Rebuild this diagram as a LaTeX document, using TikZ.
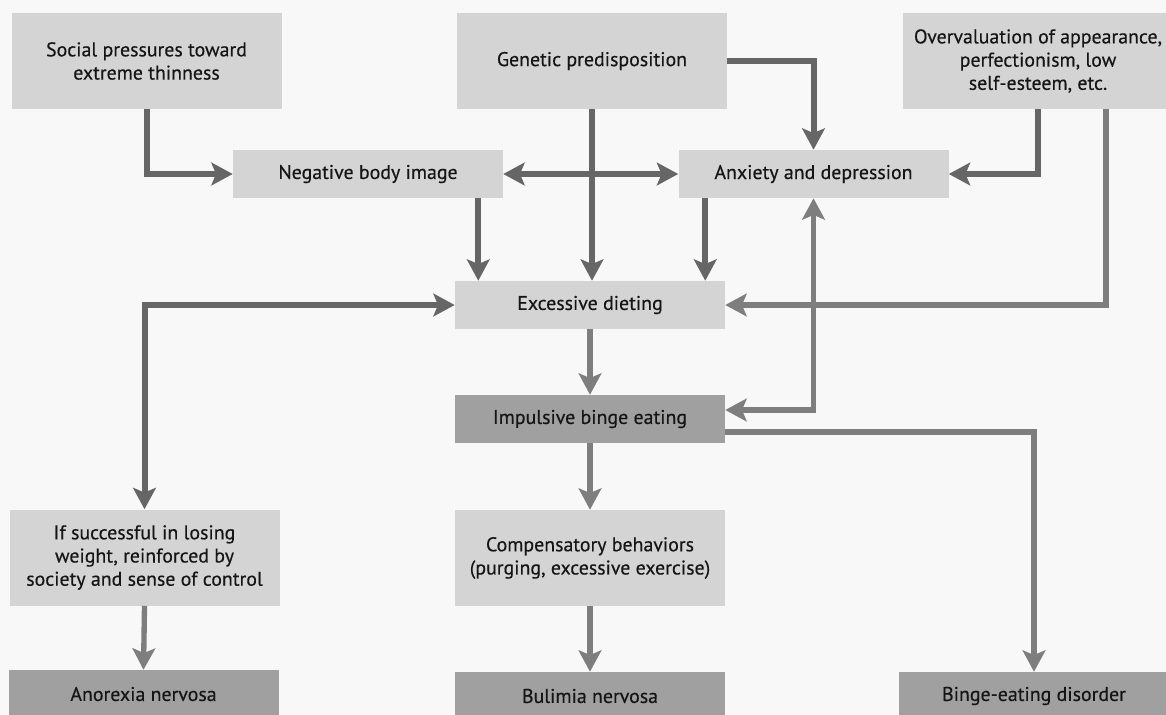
\documentclass[tikz,border=0pt]{standalone}
\usepackage{fontspec}
\setmainfont[FakeBold=0.35]{PT Sans}
\usetikzlibrary{arrows.meta,calc}
\definecolor{boxlight}{HTML}{D4D4D4}
\definecolor{boxdark}{HTML}{A0A0A0}
\definecolor{linkdark}{HTML}{666666}
\definecolor{linklight}{HTML}{7E7E7E}
\definecolor{ink}{HTML}{151515}
\definecolor{paper}{HTML}{F8F8F8}
\begin{document}
\begin{tikzpicture}[x=0.75pt,y=-0.75pt,
  >={Stealth[length=16pt,width=17pt,inset=3.5pt]},
  box/.style={fill=boxlight, minimum width=202.5pt, minimum height=36pt,
    inner sep=2pt, align=center, text=ink, font=\fontsize{14.9}{17.4}\selectfont},
  tallbox/.style={box, minimum height=72pt},
  darkbox/.style={box, fill=boxdark},
  link/.style={draw=linkdark, line width=4.5pt, ->},
  dlink/.style={link, <->},
  linklt/.style={draw=linklight, line width=4pt, ->},
  dlinklt/.style={linklt, <->}]
\useasboundingbox (0,0) rectangle (1166,714);
\fill[paper] (0,0) rectangle (1166,714);

% boxes
\node[tallbox] (soc) at (146.5,61) {Social pressures toward\\extreme thinness};
\node[tallbox] (gen) at (592,61) {Genetic predisposition};
\node[tallbox] (ov) at (1038,61) {Overvaluation of appearance,\\perfectionism, low\\self-esteem, etc.};
\node[box] (neg) at (368,174) {Negative body image};
\node[box] (anx) at (813.5,174) {Anxiety and depression};
\node[box] (diet) at (590,305) {Excessive dieting};
\node[darkbox] (binge) at (590,419) {Impulsive binge eating};
\node[tallbox] (succ) at (144.5,557.5) {If successful in losing\\weight, reinforced by\\society and sense of control};
\node[tallbox] (comp) at (590,558) {Compensatory behaviors\\(purging, excessive exercise)};
\node[darkbox] (ano) at (143.5,694) {Anorexia nervosa};
\node[darkbox] (bul) at (590,696) {Bulimia nervosa};
\node[darkbox] (bed) at (1034,696) {Binge-eating disorder};

% attachment points off the box centres
\coordinate (negfoot) at ($(neg.south east)+(-25,0)$);
\coordinate (anxfoot) at ($(anx.south west)+(27,0)$);
\coordinate (ovfoot) at ($(ov.south)+(68,0)$);
\coordinate (bingeup) at ($(binge.east)+(0,-9)$);
\coordinate (bingedown) at ($(binge.east)+(0,13)$);

% connectors
\draw[link] (soc.south) |- (neg.west);
\draw[link] (gen.south) -- (gen.south |- diet.north);
\draw[dlink] (neg.east) -- (anx.west);
\draw[link] (gen.east) -| (anx.north);
\draw[link] (ov.south) |- (anx.east);
\draw[linklt] (ovfoot) |- (diet.east);
\draw[link] (negfoot) -- (negfoot |- diet.north);
\draw[link] (anxfoot) -- (anxfoot |- diet.north);
\draw[dlink] (diet.west) -| (succ.north);
\draw[linklt] (diet.south) -- (binge.north);
\draw[dlinklt] (bingeup) -| (anx.south);
\draw[linklt] (bingedown) -| (bed.north);
\draw[linklt] (binge.south) -- (comp.north);
\draw[linklt] (comp.south) -- (bul.north);
\draw[linklt] (succ.south) -- (ano.north);
\end{tikzpicture}
\end{document}
